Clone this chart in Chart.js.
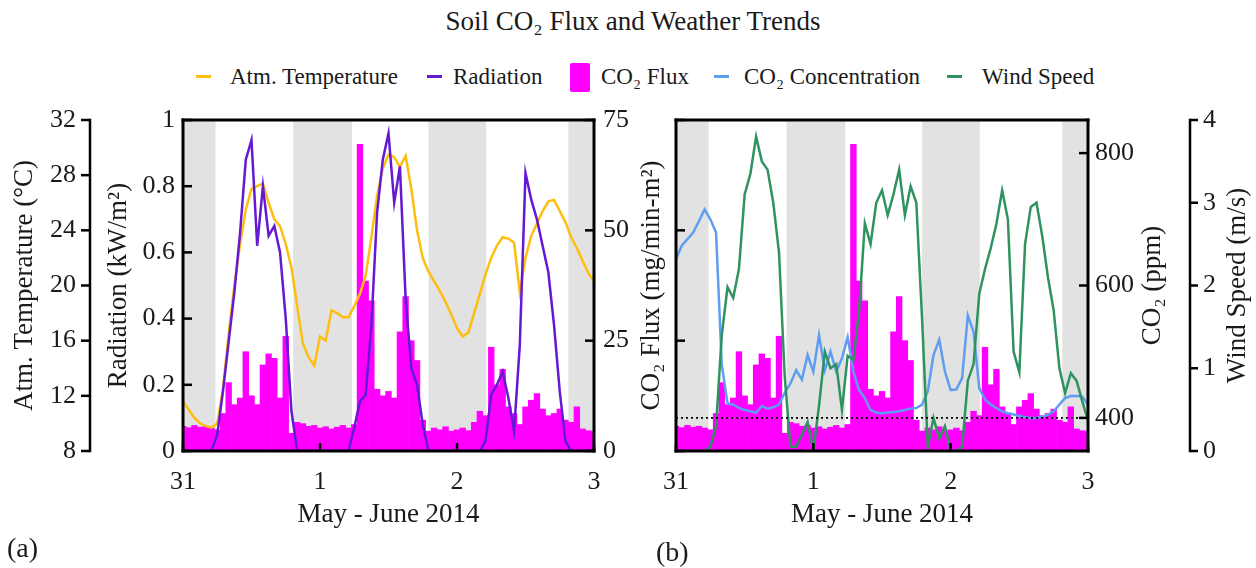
<!DOCTYPE html>
<html>
<head>
<meta charset="utf-8">
<title>Soil CO2 Flux and Weather Trends</title>
<script src="https://cdn.jsdelivr.net/npm/chart.js@4/dist/chart.umd.min.js"></script>
<style>
  body { margin: 0; background: #fff; font-family: "Liberation Serif", "DejaVu Serif", "Noto Serif", serif; color: #1a1a1a; }
  #wrap { position: relative; width: 1256px; height: 568px; overflow: hidden; }
  canvas { position: absolute; top: 0; }
  #title { position: absolute; top: 8px; left: 0; width: 1266px; text-align: center; font-size: 27px; line-height: 27px; }
  .leg-text { position: absolute; top: 65px; font-size: 23px; line-height: 23px; white-space: nowrap; }
  .leg-mark { position: absolute; }
  .tag { position: absolute; font-size: 28px; line-height: 28px; }
</style>
</head>
<body>
<div id="wrap">
  <div id="title">Soil CO₂ Flux and Weather Trends</div>
  <div id="legend"></div>
  <canvas id="chartA" width="640" height="568" style="left:0"></canvas>
  <canvas id="chartB" width="616" height="568" style="left:640px"></canvas>
  <div class="tag" style="left:7px; top:534px">(a)</div>
  <div class="tag" style="left:656px; top:538px">(b)</div>
</div>
<script>
// --- Data (hourly, hour 0 = 31 May 00:00) ---
const hours = Array.from({ length: 73 }, (_, i) => i);
const dayLabels = ['31', '1', '2', '3'];
const nightBands = [[0, 5.7], [19.3, 29.6], [43, 53.1], [67.5, 72]];

const temperature = [11.6, 11.0, 10.4, 10.0, 9.8, 9.7, 10.0, 12.5, 16.5, 20.0,
  23.0, 25.5, 27.0, 27.2, 27.4, 26.0, 24.8, 24.3, 23.0, 21.3,
  18.5, 15.8, 14.8, 14.2, 16.3, 16.0, 18.2, 18.0, 17.7, 17.7,
  18.5, 19.4, 20.7, 23.5, 26.5, 28.5, 29.5, 29.3, 28.6, 29.4,
  27.0, 24.0, 22.0, 21.0, 20.3, 19.6, 18.8, 17.9, 16.9, 16.3,
  16.6, 18.0, 19.4, 20.8, 22.0, 22.9, 23.5, 23.4, 23.1, 19.5,
  22.0, 23.6, 24.5, 25.4, 26.1, 26.2, 25.4, 24.6, 23.5, 22.7,
  21.8, 20.9, 20.3];

const radiation = [0, 0, 0, 0, 0, 0, 0.05, 0.18, 0.33, 0.48,
  0.66, 0.88, 0.94, 0.62, 0.8, 0.65, 0.68, 0.6, 0.4, 0.12,
  0, 0, 0, 0, 0, 0, 0, 0, 0, 0,
  0.07, 0.15, 0.17, 0.38, 0.72, 0.88, 0.96, 0.75, 0.86, 0.46,
  0.25, 0.2, 0.08, 0, 0, 0, 0, 0, 0, 0,
  0, 0, 0, 0.03, 0.17, 0.2, 0.24, 0.16, 0.06, 0.32,
  0.84, 0.76, 0.7, 0.62, 0.54, 0.38, 0.18, 0.03, 0, 0,
  0, 0, 0];

const co2Flux = [5.6, 5.3, 5.8, 5.4, 5.6, 5.2, 4.8, 8.5, 15.5, 10.5,
  12, 22.5, 12.5, 10.5, 19.5, 22, 21, 12, 26, 4,
  6.5, 6.2, 5.6, 5.8, 5.2, 5.5, 5.0, 5.4, 5.8, 5.2,
  6.0, 69.5, 38.5, 34, 14, 12.5, 13.5, 12, 27, 35,
  25, 20.5, 7, 4.5, 5.2, 4.8, 5.5, 4.5, 4.8, 5.2,
  4.6, 6.5, 9, 8, 23.5, 15, 18.5, 10, 8.5, 6,
  10, 11.5, 13, 9.5, 8, 8.5, 9.5, 7, 6.5, 10,
  5, 4.6, 4.4];

const co2Conc = [640, 660, 670, 680, 697, 715, 700, 680, 480, 422,
  420, 415, 412, 410, 408, 418, 414, 416, 420, 438,
  452, 472, 458, 495, 470, 525, 472, 500, 470, 490,
  522, 470, 442, 430, 412, 408, 407, 408, 409, 410,
  412, 414, 415, 420, 440, 495, 518, 470, 442, 443,
  460, 555, 530, 445, 428, 420, 415, 410, 407, 405,
  403, 401, 400, 400, 402, 405, 410, 420, 430, 433,
  433, 432, 420];

const windSpeed = [0, 0, 0, 0, 0, 0, 0.05, 0.3, 1.4, 1.98,
  1.85, 2.2, 3.1, 3.35, 3.8, 3.5, 3.4, 3.0, 2.4, 0.9,
  0.05, 0.05, 0.2, 0.35, 0.0, 0.55, 1.2, 1.0, 1.05, 0.5,
  1.15, 1.1, 1.7, 2.75, 2.5, 3.0, 3.15, 2.85, 3.1, 3.4,
  2.85, 3.2, 3.0, 1.6, 0.05, 0.4, 0.15, 0.3, 0.0, 0.0,
  0.05, 0.85, 1.05, 1.9, 2.2, 2.45, 2.75, 3.15, 2.8, 1.2,
  0.95, 2.5, 2.95, 3.0, 2.6, 2.1, 1.7, 1.0, 0.7, 0.94,
  0.85, 0.6, 0.37];

const co2Reference = 400;

// --- Styling ---
const SERIF = '"Liberation Serif", "DejaVu Serif", "Noto Serif", serif';
const INK = '#1a1a1a';
const colors = {
  temp: '#FDBE10',
  rad: '#6419D2',
  flux: '#FF00FF',
  co2: '#5E9DF0',
  wind: '#2F9360',
  night: '#e2e2e2'
};

Chart.defaults.font.family = SERIF;
Chart.defaults.color = INK;

const legendItems = [
  { label: 'Atm. Temperature', color: colors.temp, kind: 'line', mark: 196, text: 230 },
  { label: 'Radiation', color: colors.rad, kind: 'line', mark: 427, text: 453 },
  { label: 'CO₂ Flux', color: colors.flux, kind: 'box', mark: 570, text: 601 },
  { label: 'CO₂ Concentration', color: colors.co2, kind: 'line', mark: 714, text: 744 },
  { label: 'Wind Speed', color: colors.wind, kind: 'line', mark: 947, text: 982 }
];

const legend = document.getElementById('legend');
legendItems.forEach(item => {
  const m = document.createElement('div');
  m.className = 'leg-mark';
  m.style.left = item.mark + 'px';
  m.style.background = item.color;
  if (item.kind === 'box') {
    m.style.cssText += 'top:63px;width:20px;height:29px;border-radius:2px;';
  } else {
    m.style.cssText += 'top:75px;width:15px;height:3px;';
  }
  const t = document.createElement('div');
  t.className = 'leg-text';
  t.style.left = item.text + 'px';
  t.textContent = item.label;
  legend.appendChild(m);
  legend.appendChild(t);
});

const pts = arr => hours.map((h, i) => ({ x: h, y: arr[i] }));
const fixWidth = w => scale => { scale.width = w; };
const fixHeight = h => scale => { scale.height = h; };

// grey night-time bands behind everything
const nightShade = {
  id: 'nightShade',
  beforeDraw(chart) {
    const { ctx, chartArea: a, scales: { x } } = chart;
    ctx.save();
    ctx.fillStyle = colors.night;
    nightBands.forEach(([s, e]) => {
      const x0 = x.getPixelForValue(s);
      const x1 = x.getPixelForValue(e);
      ctx.fillRect(x0, a.top, x1 - x0, a.bottom - a.top);
    });
    ctx.restore();
  }
};

// box round the plot, detached axis lines and tick marks
// (tick len > 0 points into the plot, < 0 points away from it)
const axesInk = {
  id: 'axesInk',
  afterDraw(chart, args, opts) {
    const { ctx, chartArea: a } = chart;
    const fw = 3, tw = 2.5;
    ctx.save();
    ctx.fillStyle = '#000';
    ctx.fillRect(a.left - fw / 2, a.top - fw / 2, a.right - a.left + fw, fw);
    ctx.fillRect(a.left - fw / 2, a.bottom - fw / 2, a.right - a.left + fw, fw);
    ctx.fillRect(a.left - fw / 2, a.top - fw / 2, fw, a.bottom - a.top + fw);
    ctx.fillRect(a.right - fw / 2, a.top - fw / 2, fw, a.bottom - a.top + fw);
    (opts.spines || []).forEach(id => {
      const s = chart.scales[id];
      const x = s.position === 'left' ? s.right : s.left;
      ctx.fillRect(x - tw / 2, a.top - tw / 2, tw, a.bottom - a.top + tw);
    });
    (opts.ticks || []).forEach(({ scale: id, len }) => {
      const s = chart.scales[id];
      s.ticks.forEach(t => {
        const p = s.getPixelForValue(t.value);
        if (s.isHorizontal()) {
          ctx.fillRect(p - tw / 2, s.top - len, tw, len);
        } else if (s.position === 'left') {
          ctx.fillRect(Math.min(s.right, s.right + len), p - tw / 2, Math.abs(len), tw);
        } else {
          ctx.fillRect(Math.min(s.left, s.left - len), p - tw / 2, Math.abs(len), tw);
        }
      });
    });
    ctx.restore();
  }
};

// right-hand titles read bottom-to-top in the original
const sideTitles = {
  id: 'sideTitles',
  afterDraw(chart, args, opts) {
    const { ctx, chartArea: a } = chart;
    ctx.save();
    ctx.fillStyle = INK;
    ctx.font = '27px ' + SERIF;
    ctx.textAlign = 'center';
    ctx.textBaseline = 'middle';
    (opts.items || []).forEach(it => {
      const s = chart.scales[it.scale];
      ctx.save();
      ctx.translate(s.left + it.offset, (a.top + a.bottom) / 2);
      ctx.rotate(-Math.PI / 2);
      ctx.fillText(it.text, 0, 0);
      ctx.restore();
    });
    ctx.restore();
  }
};

const noGrid = { display: false, drawTicks: false };
const noBorder = { display: false };
const tickFont = { size: 26 };
const titleFont = { size: 27, lineHeight: 1 };

function dayAxis() {
  return {
    type: 'linear', position: 'bottom', min: 0, max: 72, offset: false,
    ticks: { stepSize: 24, callback: v => dayLabels[v / 24], font: tickFont, padding: 16, maxRotation: 0, autoSkip: false },
    grid: { ...noGrid, offset: false },
    border: noBorder,
    title: { display: true, text: 'May - June 2014', font: titleFont, padding: { top: 0, bottom: 0 } },
    afterFit: fixHeight(77)
  };
}

const common = {
  responsive: false,
  animation: false,
  events: []
};

new Chart(document.getElementById('chartA'), {
  type: 'bar',
  data: {
    datasets: [
      { type: 'line', label: 'Atm. Temperature', data: pts(temperature), yAxisID: 'yTemp',
        borderColor: colors.temp, borderWidth: 2.5, pointRadius: 0, order: 2 },
      { type: 'line', label: 'Radiation', data: pts(radiation), yAxisID: 'yRad',
        borderColor: colors.rad, borderWidth: 2.5, pointRadius: 0, order: 1 },
      { type: 'bar', label: 'CO₂ Flux', data: pts(co2Flux), yAxisID: 'yFlux',
        backgroundColor: colors.flux, barPercentage: 1, categoryPercentage: 1, order: 3 }
    ]
  },
  options: {
    ...common,
    layout: { padding: { top: 120, bottom: 40, left: 0, right: 0 } },
    scales: {
      x: dayAxis(),
      yTemp: {
        type: 'linear', position: 'left', weight: 1, min: 8, max: 32,
        ticks: { stepSize: 4, font: tickFont, padding: 14 },
        grid: noGrid, border: noBorder,
        title: { display: true, text: 'Atm. Temperature (°C)', font: titleFont, padding: { top: 11, bottom: 0 } },
        afterFit: fixWidth(90)
      },
      yRad: {
        type: 'linear', position: 'left', weight: 0, min: 0, max: 1,
        ticks: { stepSize: 0.2, font: tickFont, padding: 8, callback: v => String(Math.round(v * 10) / 10) },
        grid: noGrid, border: noBorder,
        title: { display: true, text: 'Radiation (kW/m²)', font: titleFont, padding: { top: 15, bottom: 0 } },
        afterFit: fixWidth(93)
      },
      yFlux: {
        type: 'linear', position: 'right', min: 0, max: 75,
        ticks: { stepSize: 25, font: tickFont, padding: 9 },
        grid: noGrid, border: noBorder,
        afterFit: fixWidth(46)
      }
    },
    plugins: {
      legend: { display: false }, tooltip: { enabled: false },
      axesInk: {
        spines: ['yTemp'],
        ticks: [{ scale: 'x', len: 8 }, { scale: 'yTemp', len: -9 }, { scale: 'yRad', len: 9 }, { scale: 'yFlux', len: 9 }]
      }
    }
  },
  plugins: [nightShade, axesInk]
});

new Chart(document.getElementById('chartB'), {
  type: 'bar',
  data: {
    datasets: [
      { type: 'line', label: 'CO₂ reference', data: [{ x: 0, y: co2Reference }, { x: 72, y: co2Reference }],
        yAxisID: 'yCO2', borderColor: '#000', borderWidth: 1.6, borderDash: [2, 3], pointRadius: 0, order: 0 },
      { type: 'line', label: 'Wind Speed', data: pts(windSpeed), yAxisID: 'yWind',
        borderColor: colors.wind, borderWidth: 2.5, pointRadius: 0, order: 1 },
      { type: 'line', label: 'CO₂ Concentration', data: pts(co2Conc), yAxisID: 'yCO2',
        borderColor: colors.co2, borderWidth: 2.5, pointRadius: 0, order: 2 },
      { type: 'bar', label: 'CO₂ Flux', data: pts(co2Flux), yAxisID: 'yFlux',
        backgroundColor: colors.flux, barPercentage: 1, categoryPercentage: 1, order: 3 }
    ]
  },
  options: {
    ...common,
    layout: { padding: { top: 120, bottom: 40, left: 0, right: 0 } },
    scales: {
      x: dayAxis(),
      yFlux: {
        type: 'linear', position: 'left', min: 0, max: 75,
        ticks: { stepSize: 25, display: false },
        grid: noGrid, border: noBorder,
        title: { display: true, text: 'CO₂ Flux (mg/min-m²)', font: titleFont, padding: { top: -2, bottom: 0 } },
        afterFit: fixWidth(36)
      },
      yCO2: {
        type: 'linear', position: 'right', weight: 0, min: 350, max: 850,
        ticks: { stepSize: 200, includeBounds: false, font: tickFont, padding: 7 },
        grid: noGrid, border: noBorder,
        afterFit: fixWidth(102)
      },
      yWind: {
        type: 'linear', position: 'right', weight: 1, min: 0, max: 4,
        ticks: { stepSize: 1, font: tickFont, padding: 13 },
        grid: noGrid, border: noBorder,
        afterFit: fixWidth(66)
      }
    },
    plugins: {
      legend: { display: false }, tooltip: { enabled: false },
      axesInk: {
        spines: ['yWind'],
        ticks: [{ scale: 'x', len: 8 }, { scale: 'yFlux', len: 9 }, { scale: 'yCO2', len: 9 }, { scale: 'yWind', len: -8 }]
      },
      sideTitles: { items: [
        { scale: 'yCO2', text: 'CO₂ (ppm)', offset: 65 },
        { scale: 'yWind', text: 'Wind Speed (m/s)', offset: 48 }
      ] }
    }
  },
  plugins: [nightShade, axesInk, sideTitles]
});
</script>
</body>
</html>
